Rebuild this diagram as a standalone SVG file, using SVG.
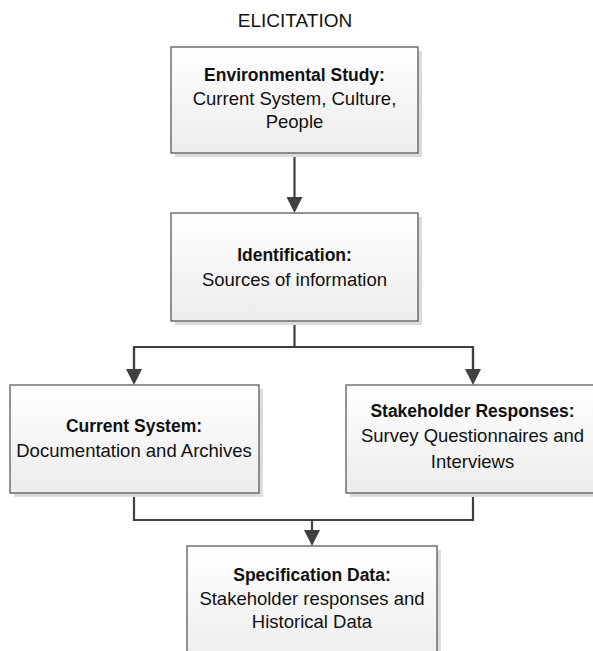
<svg xmlns="http://www.w3.org/2000/svg" width="593" height="651" viewBox="0 0 593 651">
<defs>
<linearGradient id="boxFill" x1="0" y1="0" x2="0" y2="1">
<stop offset="0" stop-color="#ffffff"/>
<stop offset="1" stop-color="#ececec"/>
</linearGradient>
<marker id="arrow" viewBox="0 0 16 16" markerWidth="16" markerHeight="16" refX="0" refY="8" markerUnits="userSpaceOnUse" orient="auto">
<path d="M0,0 L16,8 L0,16 z" fill="#404040"/>
</marker>
</defs>
<style>
.shadow{fill:#dcdcdc;}
.box{fill:url(#boxFill);stroke:#5a5a5a;stroke-width:1.3;}
.conn{fill:none;stroke:#404040;stroke-width:2.2;}
text{font-family:"Liberation Sans",Arial,sans-serif;fill:#111;text-anchor:middle;}
.h{font-size:17.5px;font-weight:bold;}
.t{font-size:18.5px;}
.title{font-size:19px;}
</style>
<rect width="593" height="651" fill="#ffffff"/>
<text class="title" x="295" y="27">ELICITATION</text>
<g id="connectors">
<path class="conn" d="M294.5,153 V197" marker-end="url(#arrow)"/>
<path class="conn" d="M294.5,321 V347 M134,369 V347 H473 V369"/>
<path class="conn" d="M134,348 V369" marker-end="url(#arrow)"/>
<path class="conn" d="M473,348 V369" marker-end="url(#arrow)"/>
<path class="conn" d="M134,493 V520 H473 V493"/>
<path class="conn" d="M312,520 V530" marker-end="url(#arrow)"/>
</g>
<g id="env-study">
<rect class="shadow" x="175" y="51" width="247" height="106"/>
<rect class="box" x="171" y="47" width="247" height="106"/>
<text class="h" x="294.5" y="81">Environmental Study:</text>
<text class="t" x="294.5" y="105">Current System, Culture,</text>
<text class="t" x="294.5" y="128">People</text>
</g>
<g id="identification">
<rect class="shadow" x="175" y="217" width="247" height="108"/>
<rect class="box" x="171" y="213" width="247" height="108"/>
<text class="h" x="294.5" y="261">Identification:</text>
<text class="t" x="294.5" y="286">Sources of information</text>
</g>
<g id="current-system">
<rect class="shadow" x="14" y="389" width="249" height="108"/>
<rect class="box" x="10" y="385" width="249" height="108"/>
<text class="h" x="134" y="432">Current System:</text>
<text class="t" x="134" y="457">Documentation and Archives</text>
</g>
<g id="stakeholder-responses">
<rect class="shadow" x="350" y="389" width="253" height="108"/>
<rect class="box" x="346" y="385" width="253" height="108"/>
<text class="h" x="472.5" y="417">Stakeholder Responses:</text>
<text class="t" x="472.5" y="442">Survey Questionnaires and</text>
<text class="t" x="472.5" y="468">Interviews</text>
</g>
<g id="specification-data">
<rect class="shadow" x="191" y="550" width="250" height="120"/>
<rect class="box" x="187" y="546" width="250" height="120"/>
<text class="h" x="312" y="581">Specification Data:</text>
<text class="t" x="312" y="605">Stakeholder responses and</text>
<text class="t" x="312" y="628">Historical Data</text>
</g>
</svg>
